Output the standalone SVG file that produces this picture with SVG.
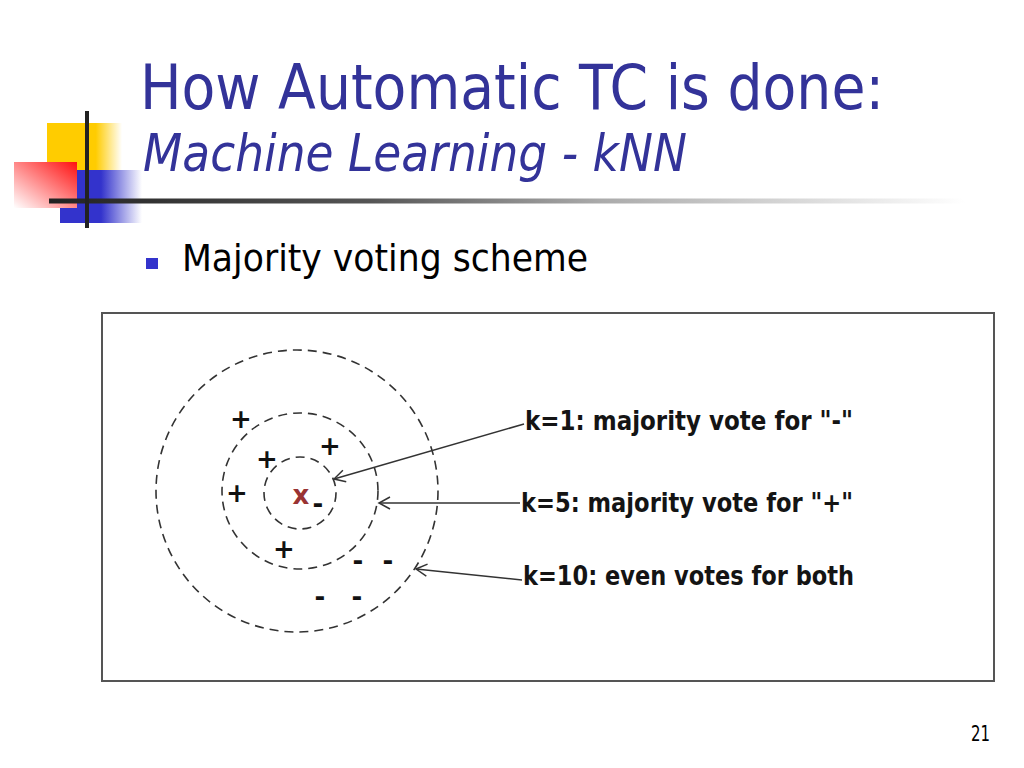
<svg xmlns="http://www.w3.org/2000/svg" width="1024" height="768" viewBox="0 0 1024 768">
<style>
.title{font-family:"DejaVu Sans","Liberation Sans",sans-serif;fill:#333399}
.bul{font-family:"DejaVu Sans","Liberation Sans",sans-serif;fill:#000}
.lbl{font-family:"DejaVu Sans","Liberation Sans",sans-serif;font-weight:bold;font-size:26px;fill:#141414}
.pt{font-family:"DejaVu Sans","Liberation Sans",sans-serif;font-weight:bold;font-size:26px;fill:#111;text-anchor:middle}
.ring{fill:none;stroke:#333;stroke-width:1.6;stroke-dasharray:9 6}
.conn{fill:none;stroke:#333;stroke-width:1.5;marker-end:url(#arr)}
</style>
<defs>
<linearGradient id="gY" x1="0" y1="0" x2="1" y2="0"><stop offset="0" stop-color="#ffcc00"/><stop offset="0.65" stop-color="#ffcc00"/><stop offset="1" stop-color="#ffcc00" stop-opacity="0"/></linearGradient>
<linearGradient id="gB" x1="0" y1="0" x2="1" y2="0"><stop offset="0" stop-color="#3333cc"/><stop offset="0.5" stop-color="#3333cc"/><stop offset="1" stop-color="#3333cc" stop-opacity="0"/></linearGradient>
<linearGradient id="gR" x1="1" y1="0" x2="0" y2="1"><stop offset="0" stop-color="#ff1010"/><stop offset="1" stop-color="#ffffff"/></linearGradient>
<linearGradient id="gL" gradientUnits="userSpaceOnUse" x1="49" y1="0" x2="965" y2="0"><stop offset="0" stop-color="#222"/><stop offset="0.35" stop-color="#555"/><stop offset="0.6" stop-color="#aaa"/><stop offset="1" stop-color="#fff"/></linearGradient>
<marker id="arr" markerUnits="userSpaceOnUse" markerWidth="14" markerHeight="14" viewBox="0 0 14 14" refX="12" refY="7" orient="auto"><path d="M1,1 L12,7 L1,13" fill="none" stroke="#333" stroke-width="1.5"/></marker>
</defs>
<rect width="1024" height="768" fill="#fff"/>
<g id="logo">
<rect x="47" y="123" width="75" height="47" fill="url(#gY)"/>
<rect x="60" y="170" width="82" height="53" fill="url(#gB)"/>
<rect x="14" y="162" width="63" height="46" fill="url(#gR)"/>
<rect x="49" y="198.5" width="916" height="5" fill="url(#gL)"/>
<rect x="85" y="111" width="4" height="117" fill="#222"/>
</g>
<g id="title">
<text class="title" x="140" y="109" font-size="62" textLength="744" lengthAdjust="spacingAndGlyphs">How Automatic TC is done:</text>
<text class="title" x="143" y="171" font-size="52" font-style="italic" textLength="544" lengthAdjust="spacingAndGlyphs">Machine Learning - kNN</text>
</g>
<g id="bullet">
<rect x="146" y="258" width="12" height="11" fill="#3333cc"/>
<text class="bul" x="182" y="271" font-size="38" textLength="406" lengthAdjust="spacingAndGlyphs">Majority voting scheme</text>
</g>
<g id="frame">
<rect x="102" y="313" width="892" height="368" fill="#fff" stroke="#555" stroke-width="2"/>
</g>
<g id="rings">
<circle class="ring" cx="297" cy="491" r="141"/>
<circle class="ring" cx="300" cy="491" r="78"/>
<circle class="ring" cx="300" cy="493" r="36"/>
</g>
<g id="points">
<text class="pt" x="241" y="428">+</text>
<text class="pt" x="330" y="455">+</text>
<text class="pt" x="267" y="468">+</text>
<text class="pt" x="237" y="502">+</text>
<text class="pt" x="284" y="558">+</text>
<text class="pt" x="301" y="504" style="fill:#993333">x</text>
<text class="pt" x="318" y="513">-</text>
<text class="pt" x="358" y="570">-</text>
<text class="pt" x="388" y="570">-</text>
<text class="pt" x="320" y="606">-</text>
<text class="pt" x="357" y="606">-</text>
</g>
<g id="connectors">
<line class="conn" x1="524" y1="424" x2="334" y2="479"/>
<line class="conn" x1="520" y1="503" x2="379" y2="503"/>
<line class="conn" x1="522" y1="580" x2="416" y2="569"/>
</g>
<g id="labels">
<text class="lbl" x="525" y="430" textLength="328" lengthAdjust="spacingAndGlyphs">k=1: majority vote for "-"</text>
<text class="lbl" x="521" y="512" textLength="332" lengthAdjust="spacingAndGlyphs">k=5: majority vote for "+"</text>
<text class="lbl" x="523" y="585" textLength="331" lengthAdjust="spacingAndGlyphs">k=10: even votes for both</text>
</g>
<g id="page">
<text class="bul" x="971" y="741" font-size="21" textLength="19" lengthAdjust="spacingAndGlyphs">21</text>
</g>
</svg>
